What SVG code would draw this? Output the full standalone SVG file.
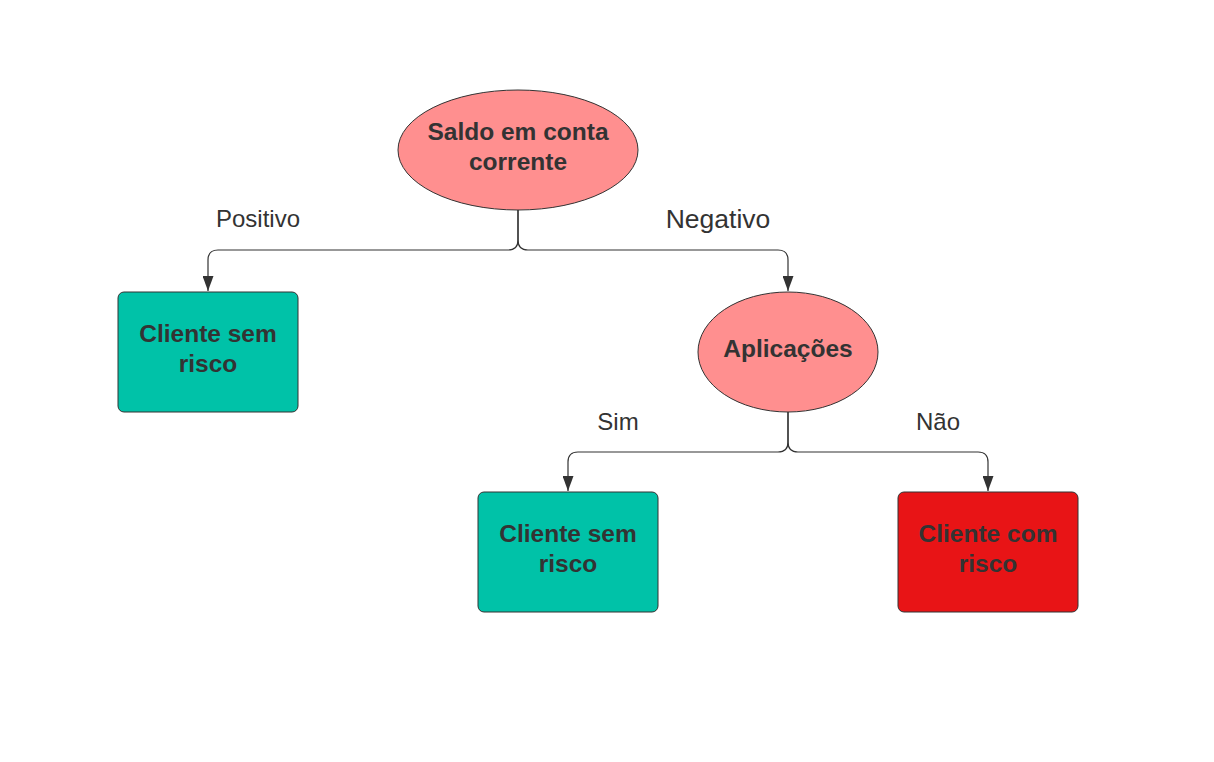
<svg xmlns="http://www.w3.org/2000/svg" width="1214" height="762" viewBox="0 0 1214 762">
<style>
.n{stroke:#333;stroke-width:1}
.t{font-family:"Liberation Sans",Arial,sans-serif;font-weight:bold;font-size:24.5px;fill:#333;text-anchor:middle}
.l{font-family:"Liberation Sans",Arial,sans-serif;font-size:24px;fill:#333;text-anchor:middle}
.c{fill:none;stroke:#333;stroke-width:1.2}
</style>
<defs>
<marker id="ah" viewBox="0 0 15 11" refX="15" refY="5.5" markerWidth="15" markerHeight="11" markerUnits="userSpaceOnUse" orient="auto">
<path d="M0,0 L15,5.5 L0,11 Z" fill="#333"/>
</marker>
</defs>
<rect width="1214" height="762" fill="#fff"/>
<g id="connectors">
<path class="c" d="M518,210 V240 Q518,250 508,250 H218 Q208,250 208,260 V291" marker-end="url(#ah)"/>
<path class="c" d="M518,210 V240 Q518,250 528,250 H778 Q788,250 788,260 V291" marker-end="url(#ah)"/>
<path class="c" d="M788,412 V442 Q788,452 778,452 H578 Q568,452 568,462 V491" marker-end="url(#ah)"/>
<path class="c" d="M788,412 V442 Q788,452 798,452 H978 Q988,452 988,462 V491" marker-end="url(#ah)"/>
</g>
<g id="labels">
<text class="l" x="258" y="227">Positivo</text>
<text class="l" x="718" y="228" style="font-size:26.5px">Negativo</text>
<text class="l" x="618" y="430">Sim</text>
<text class="l" x="938" y="430">Não</text>
</g>
<g id="n1">
<ellipse class="n" cx="518" cy="150" rx="120" ry="60" fill="#ff8f8f"/>
<text class="t" x="518" y="140">Saldo em conta</text>
<text class="t" x="518" y="170">corrente</text>
</g>
<g id="n2">
<rect class="n" x="118" y="292" width="180" height="120" rx="6" fill="#00c2a8"/>
<text class="t" x="208" y="342">Cliente sem</text>
<text class="t" x="208" y="372">risco</text>
</g>
<g id="n3">
<ellipse class="n" cx="788" cy="352" rx="90" ry="60" fill="#ff8f8f"/>
<text class="t" x="788" y="357">Aplicações</text>
</g>
<g id="n4">
<rect class="n" x="478" y="492" width="180" height="120" rx="6" fill="#00c2a8"/>
<text class="t" x="568" y="542">Cliente sem</text>
<text class="t" x="568" y="572">risco</text>
</g>
<g id="n5">
<rect class="n" x="898" y="492" width="180" height="120" rx="6" fill="#e81416"/>
<text class="t" x="988" y="542">Cliente com</text>
<text class="t" x="988" y="572">risco</text>
</g>
</svg>
